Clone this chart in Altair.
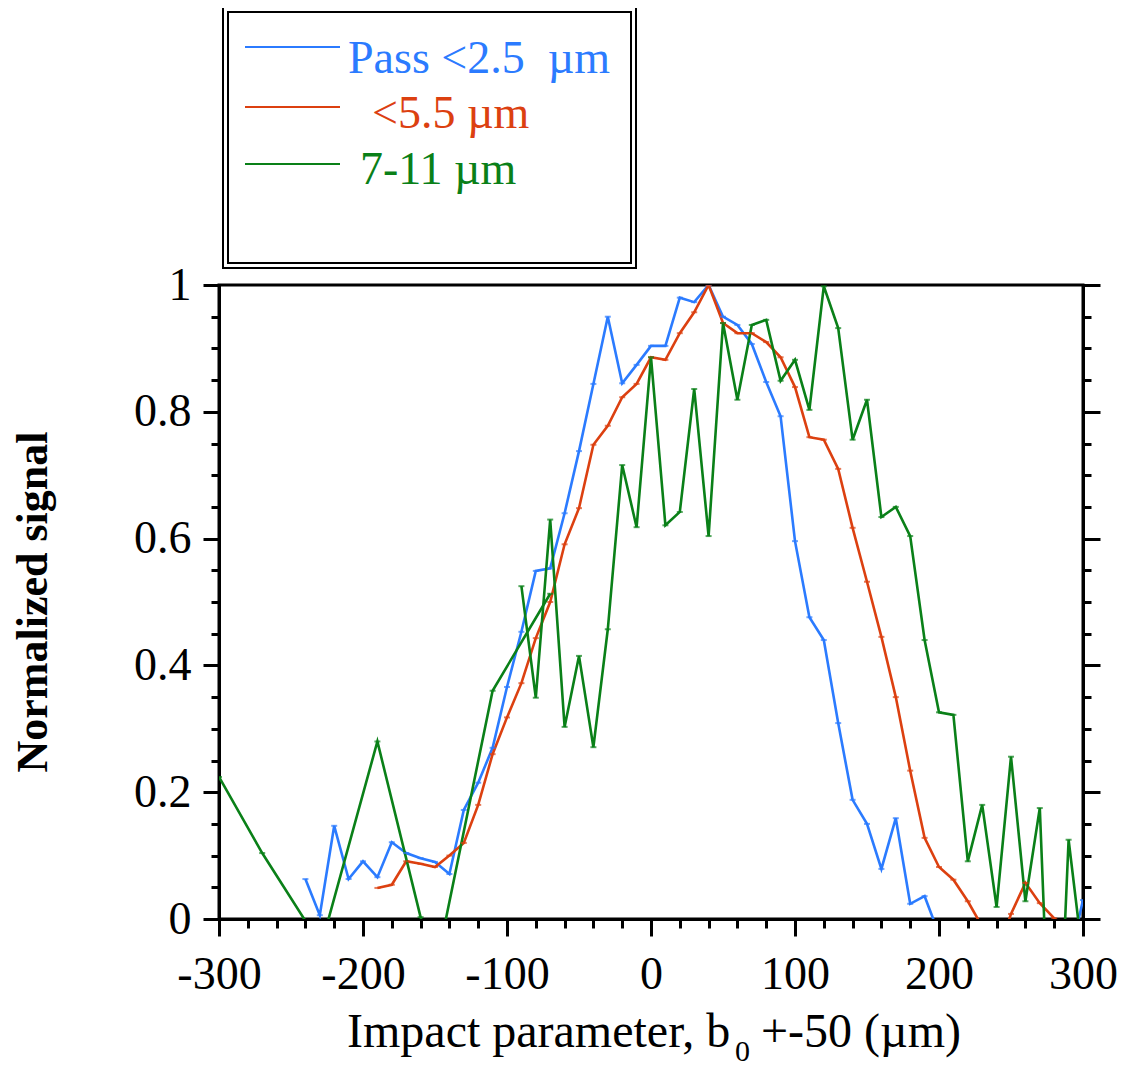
import altair as alt
import pandas as pd

# ---------------- data ----------------
series_names = ["Pass <2.5\u00a0 µm", "<5.5 µm", "7-11 µm"]
series_colors = ["#2b7bff", "#dc4010", "#0a8018"]

blue_x = [-240, -230, -220, -210, -200, -190, -180, -170, -160, -150, -140, -130,
          -120, -110, -100, -90, -80, -70, -60, -50, -40, -30, -20, -10, 0, 10,
          20, 30, 40, 50, 60, 70, 80, 90, 100, 110, 120, 130, 140, 150, 160, 170,
          180, 190, 200, 290, 300]
blue_y = [0.063, 0.006, 0.147, 0.063, 0.091, 0.066, 0.121, 0.104, 0.096, 0.090,
          0.071, 0.172, 0.215, 0.270, 0.366, 0.453, 0.549, 0.553, 0.640, 0.738,
          0.844, 0.950, 0.845, 0.874, 0.904, 0.904, 0.980, 0.973, 1.000, 0.950,
          0.937, 0.907, 0.847, 0.793, 0.596, 0.476, 0.440, 0.309, 0.188, 0.150,
          0.079, 0.159, 0.024, 0.036, -0.024, -0.070, 0.030]

red_x = [-190, -180, -170, -160, -150, -140, -130, -120, -110, -100, -90, -80,
         -70, -60, -50, -40, -30, -20, -10, 0, 10, 20, 30, 40, 50, 60, 70, 80,
         90, 100, 110, 120, 130, 140, 150, 160, 170, 180, 190, 200, 210, 220,
         230, 240, 250, 260, 270, 280, 290]
red_y = [0.049, 0.054, 0.091, 0.087, 0.082, 0.100, 0.120, 0.180, 0.260, 0.318,
         0.372, 0.443, 0.500, 0.591, 0.648, 0.748, 0.778, 0.823, 0.844, 0.886,
         0.882, 0.924, 0.957, 1.000, 0.940, 0.924, 0.924, 0.910, 0.886, 0.839,
         0.760, 0.756, 0.710, 0.617, 0.532, 0.445, 0.350, 0.234, 0.128, 0.082,
         0.062, 0.028, -0.012, -0.060, 0.008, 0.057, 0.025, 0.001, -0.030]

# green: a coarse scan followed by a fine scan
green1_x = [-300, -270, -240, -230, -190, -160, -150, -110, -70]
green1_y = [0.224, 0.104, -0.003, -0.050, 0.280, 0.003, -0.084, 0.360, 0.513]

green2_x = [-90, -80, -70, -60, -50, -40, -30, -20, -10, 0, 10, 20, 30, 40, 50,
            60, 70, 80, 90, 100, 110, 120, 130, 140, 150, 160, 170, 180, 190,
            200, 210, 220, 230, 240, 250, 260, 270, 280, 290, 300]
green2_y = [0.525, 0.349, 0.630, 0.303, 0.415, 0.271, 0.457, 0.716, 0.618, 0.886,
            0.621, 0.642, 0.836, 0.604, 0.940, 0.819, 0.937, 0.945, 0.849, 0.882,
            0.803, 0.998, 0.932, 0.756, 0.819, 0.634, 0.650, 0.604, 0.440, 0.326,
            0.322, 0.091, 0.180, 0.019, 0.256, 0.028, 0.175, -0.400, 0.125, -0.064]

x_tick_values = [-300, -280, -260, -240, -220, -200, -180, -160, -140, -120, -100,
                 -80, -60, -40, -20, 0, 20, 40, 60, 80, 100, 120, 140, 160, 180,
                 200, 220, 240, 260, 280, 300]
y_tick_values = [0, 0.05, 0.1, 0.15, 0.2, 0.25, 0.3, 0.35, 0.4, 0.45, 0.5, 0.55,
                 0.6, 0.65, 0.7, 0.75, 0.8, 0.85, 0.9, 0.95, 1.0]

x_title_main = "Impact parameter, b"
x_title_sub = "0"
x_title_rest = "+-50 (µm)"
y_title = "Normalized signal"

# ---------------- build table ----------------
rows = []
for xs, ys, s, seg in [(blue_x, blue_y, series_names[0], "b"),
                       (red_x, red_y, series_names[1], "r"),
                       (green1_x, green1_y, series_names[2], "g1"),
                       (green2_x, green2_y, series_names[2], "g2")]:
    for xv, yv in zip(xs, ys):
        rows.append({"x": xv, "y": yv, "series": s, "seg": seg})
df = pd.DataFrame(rows)

FONT = "Liberation Serif"
xscale = alt.Scale(domain=[-300, 300], nice=False, zero=False)
yscale = alt.Scale(domain=[0, 1], nice=False, zero=False)
cscale = alt.Scale(domain=series_names, range=series_colors)

x_axis = alt.Axis(values=x_tick_values, title=None, grid=False,
                  domain=True, domainColor="black", domainWidth=3,
                  labelExpr="datum.value % 100 === 0 ? '' + datum.value : ''",
                  labelFont=FONT, labelFontSize=46, labelColor="black",
                  labelPadding=16, labelFlush=False, labelOverlap=False,
                  tickColor="black", tickWidth=3,
                  tickSize={"condition": {"test": "datum.value % 100 === 0", "value": 17}, "value": 9})
y_axis_left = alt.Axis(values=y_tick_values, title=None, grid=False,
                       domain=True, domainColor="black", domainWidth=3,
                       labelExpr="round(datum.value * 100) % 20 === 0 ? format(datum.value, '~g') : ''",
                       labelFont=FONT, labelFontSize=46, labelColor="black",
                       labelPadding=12, labelFlush=False, labelOverlap=False,
                       tickColor="black", tickWidth=3,
                       tickSize={"condition": {"test": "round(datum.value * 100) % 20 === 0", "value": 16}, "value": 8})
y_axis_right = alt.Axis(values=y_tick_values, title=None, grid=False,
                        domain=True, domainColor="black", domainWidth=3,
                        orient="right", labels=False,
                        tickColor="black", tickWidth=3,
                        tickSize={"condition": {"test": "round(datum.value * 100) % 20 === 0", "value": 17}, "value": 8})


def series_layer(name, axis_y):
    return alt.Chart(df).transform_filter(alt.datum.series == name).mark_line(
        strokeWidth=2.6, clip=True
    ).encode(
        x=alt.X("x:Q", scale=xscale, axis=x_axis),
        y=alt.Y("y:Q", scale=yscale, axis=axis_y),
        color=alt.Color("series:N", scale=cscale, legend=None),
        detail="seg:N",
        order="x:Q",
    )


blue_line = series_layer(series_names[0], y_axis_left)
red_line = series_layer(series_names[1], y_axis_right)
green_line = series_layer(series_names[2], None)

markers = alt.Chart(df).mark_tick(orient="horizontal", size=6, thickness=2, clip=True).encode(
    x=alt.X("x:Q", scale=xscale, axis=x_axis),
    y=alt.Y("y:Q", scale=yscale, axis=None),
    color=alt.Color("series:N", scale=cscale, legend=None),
)

one = pd.DataFrame({"k": [0]})

# legend box (double border)
box_outer = alt.Chart(one).mark_rect(filled=False, stroke="black", strokeWidth=2).encode(
    x=alt.value(4), x2=alt.value(417), y=alt.value(-278), y2=alt.value(-17))
box_inner = alt.Chart(one).mark_rect(filled=False, stroke="black", strokeWidth=2).encode(
    x=alt.value(9), x2=alt.value(412), y=alt.value(-273), y2=alt.value(-22))

legend_layers = []
leg_line_y = [-238, -178, -121]
leg_text_x = [129, 153, 141]
leg_text_y = [-212, -157, -101]
for i in range(3):
    legend_layers.append(
        alt.Chart(one).mark_rule(color=series_colors[i], strokeWidth=2).encode(
            x=alt.value(26), x2=alt.value(121), y=alt.value(leg_line_y[i])))
    legend_layers.append(
        alt.Chart(one).mark_text(text=series_names[i], font=FONT, fontSize=46,
                                 align="left", baseline="alphabetic",
                                 color=series_colors[i]).encode(
            x=alt.value(leg_text_x[i]), y=alt.value(leg_text_y[i])))

# axis titles
xt1 = alt.Chart(one).mark_text(text=x_title_main, font=FONT, fontSize=48, align="left",
                               baseline="alphabetic", color="black").encode(
    x=alt.value(128), y=alt.value(762))
xt2 = alt.Chart(one).mark_text(text=x_title_sub, font=FONT, fontSize=30, align="left",
                               baseline="alphabetic", color="black").encode(
    x=alt.value(516), y=alt.value(776))
xt3 = alt.Chart(one).mark_text(text=x_title_rest, font=FONT, fontSize=48, align="left",
                               baseline="alphabetic", color="black").encode(
    x=alt.value(542), y=alt.value(762))
yt = alt.Chart(one).mark_text(text=y_title, font=FONT, fontSize=44, fontWeight="bold",
                              align="center", baseline="middle", angle=270,
                              color="black").encode(
    x=alt.value(-185), y=alt.value(317))

chart = alt.layer(
    blue_line, red_line, green_line, markers,
    box_outer, box_inner, *legend_layers, xt1, xt2, xt3, yt
).resolve_axis(y="independent").properties(
    width=864, height=634,
    padding={"left": 211, "top": 277, "right": 36, "bottom": 150},
    autosize=alt.AutoSizeParams(type="none"),
    background="white",
).configure_view(stroke="black", strokeWidth=3)

chart.save("out.html", embed_options={"renderer": "svg", "actions": False})
